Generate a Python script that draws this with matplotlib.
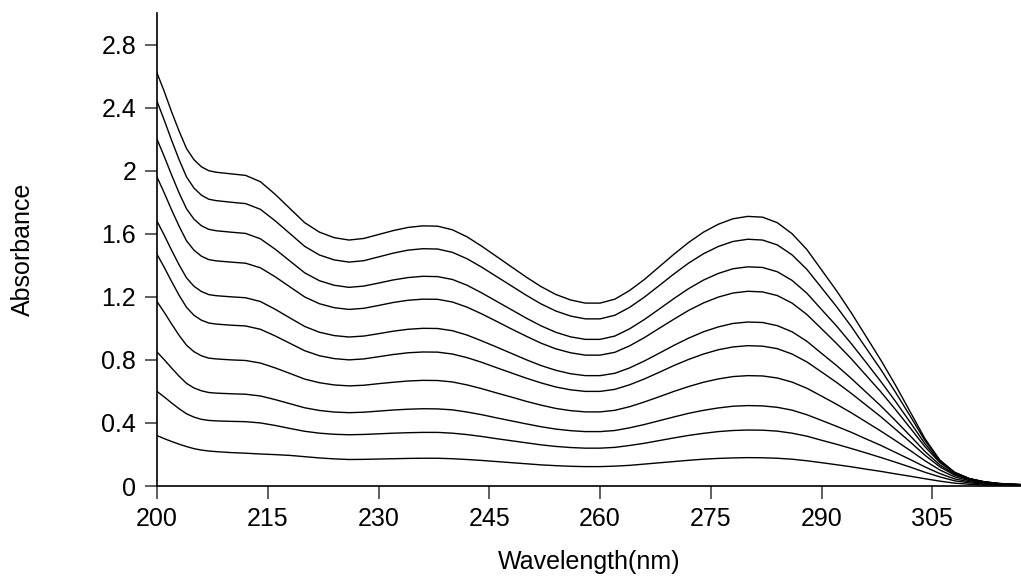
import matplotlib
matplotlib.use("Agg")
import matplotlib.pyplot as plt
from matplotlib.ticker import FuncFormatter

# wavelength grid (nm) and absorbance of the 10 spectra, top to bottom
wl = [200, 201, 202, 203, 204, 205, 206, 207, 208,
      210, 212, 214, 216, 218, 220, 222, 224, 226,
      228, 230, 232, 234, 236,
      238, 240, 242, 244, 246, 248, 250, 252, 254, 256, 258, 260,
      262, 264, 266, 268, 270, 272, 274, 276, 278, 280,
      282, 284, 286, 288, 290, 292, 294, 296, 298, 300, 302, 304, 306, 308, 310, 312, 314, 317]

c1 = [2.62, 2.50, 2.37, 2.25, 2.14, 2.07, 2.025, 2.00, 1.99,
      1.98, 1.97, 1.93, 1.85, 1.76, 1.67, 1.61, 1.575, 1.56,
      1.57, 1.595, 1.62, 1.64, 1.65,
      1.648, 1.625, 1.58, 1.52, 1.455, 1.39, 1.325, 1.265, 1.215, 1.18, 1.16, 1.16,
      1.185, 1.24, 1.31, 1.39, 1.47, 1.545, 1.61, 1.66, 1.695, 1.71,
      1.705, 1.67, 1.60, 1.50, 1.37, 1.24, 1.10, 0.95, 0.80, 0.64, 0.47, 0.30, 0.165, 0.085, 0.045, 0.025, 0.015, 0.008]
c2 = [2.44, 2.318, 2.19, 2.069, 1.96, 1.89, 1.845, 1.819, 1.81,
      1.80, 1.791, 1.755, 1.682, 1.601, 1.52, 1.465, 1.434, 1.42,
      1.429, 1.453, 1.477, 1.496, 1.505,
      1.503, 1.482, 1.441, 1.387, 1.328, 1.269, 1.21, 1.155, 1.11, 1.078, 1.06, 1.06,
      1.083, 1.133, 1.198, 1.271, 1.345, 1.414, 1.473, 1.519, 1.551, 1.565,
      1.56, 1.529, 1.466, 1.374, 1.257, 1.139, 1.013, 0.876, 0.74, 0.595, 0.443, 0.288, 0.163, 0.088, 0.047, 0.027, 0.016, 0.009]
c3 = [2.20, 2.088, 1.97, 1.858, 1.758, 1.693, 1.651, 1.628, 1.619,
      1.61, 1.602, 1.568, 1.502, 1.427, 1.352, 1.302, 1.273, 1.26,
      1.268, 1.287, 1.307, 1.322, 1.33,
      1.328, 1.31, 1.273, 1.224, 1.171, 1.118, 1.065, 1.016, 0.975, 0.946, 0.93, 0.93,
      0.951, 0.997, 1.056, 1.122, 1.189, 1.252, 1.306, 1.348, 1.378, 1.39,
      1.386, 1.359, 1.304, 1.223, 1.119, 1.016, 0.904, 0.785, 0.664, 0.537, 0.404, 0.268, 0.156, 0.085, 0.047, 0.026, 0.015, 0.008]
c4 = [1.96, 1.857, 1.749, 1.647, 1.555, 1.496, 1.458, 1.436, 1.428,
      1.42, 1.413, 1.384, 1.327, 1.263, 1.199, 1.156, 1.131, 1.12,
      1.127, 1.145, 1.164, 1.178, 1.185,
      1.184, 1.167, 1.134, 1.091, 1.044, 0.996, 0.95, 0.906, 0.87, 0.845, 0.83, 0.83,
      0.848, 0.889, 0.941, 1.0, 1.058, 1.114, 1.161, 1.198, 1.224, 1.235,
      1.231, 1.208, 1.16, 1.088, 0.997, 0.905, 0.808, 0.703, 0.598, 0.485, 0.368, 0.249, 0.149, 0.083, 0.046, 0.027, 0.016, 0.009]
c5 = [1.68, 1.589, 1.493, 1.402, 1.32, 1.267, 1.234, 1.214, 1.207,
      1.20, 1.194, 1.17, 1.121, 1.066, 1.012, 0.975, 0.954, 0.945,
      0.951, 0.966, 0.982, 0.994, 1.00,
      0.999, 0.985, 0.957, 0.92, 0.881, 0.841, 0.801, 0.764, 0.734, 0.712, 0.70, 0.70,
      0.715, 0.749, 0.793, 0.842, 0.892, 0.938, 0.978, 1.009, 1.031, 1.04,
      1.037, 1.017, 0.978, 0.918, 0.841, 0.765, 0.683, 0.596, 0.509, 0.415, 0.318, 0.219, 0.134, 0.075, 0.043, 0.025, 0.015, 0.007]
c6 = [1.47, 1.385, 1.295, 1.209, 1.133, 1.083, 1.052, 1.034, 1.027,
      1.02, 1.015, 0.994, 0.952, 0.905, 0.858, 0.826, 0.808, 0.80,
      0.806, 0.82, 0.834, 0.845, 0.85,
      0.849, 0.837, 0.814, 0.784, 0.75, 0.717, 0.684, 0.654, 0.628, 0.61, 0.60, 0.60,
      0.613, 0.642, 0.679, 0.721, 0.764, 0.803, 0.837, 0.864, 0.882, 0.89,
      0.887, 0.871, 0.837, 0.787, 0.723, 0.658, 0.588, 0.514, 0.44, 0.36, 0.279, 0.195, 0.122, 0.069, 0.04, 0.023, 0.013, 0.007]
c7 = [1.17, 1.10, 1.026, 0.955, 0.893, 0.852, 0.826, 0.811, 0.806,
      0.80, 0.796, 0.78, 0.749, 0.714, 0.678, 0.655, 0.641, 0.635,
      0.639, 0.649, 0.658, 0.666, 0.67,
      0.669, 0.66, 0.641, 0.617, 0.59, 0.564, 0.537, 0.513, 0.492, 0.478, 0.47, 0.47,
      0.48, 0.503, 0.533, 0.566, 0.60, 0.631, 0.658, 0.679, 0.694, 0.70,
      0.698, 0.685, 0.659, 0.62, 0.57, 0.519, 0.465, 0.407, 0.349, 0.288, 0.225, 0.16, 0.102, 0.058, 0.034, 0.02, 0.011, 0.006]
c8 = [0.85, 0.80, 0.747, 0.696, 0.651, 0.622, 0.604, 0.593, 0.589,
      0.585, 0.582, 0.571, 0.548, 0.522, 0.496, 0.479, 0.469, 0.465,
      0.468, 0.475, 0.482, 0.487, 0.49,
      0.489, 0.483, 0.469, 0.452, 0.432, 0.413, 0.394, 0.376, 0.361, 0.351, 0.345, 0.345,
      0.352, 0.369, 0.39, 0.414, 0.438, 0.461, 0.48, 0.495, 0.506, 0.51,
      0.508, 0.499, 0.481, 0.452, 0.416, 0.379, 0.341, 0.299, 0.258, 0.213, 0.168, 0.121, 0.079, 0.045, 0.027, 0.016, 0.009, 0.005]
c9 = [0.60, 0.564, 0.526, 0.49, 0.458, 0.437, 0.423, 0.416, 0.413,
      0.41, 0.408, 0.40, 0.384, 0.365, 0.347, 0.335, 0.328, 0.325,
      0.327, 0.331, 0.335, 0.338, 0.34,
      0.34, 0.335, 0.326, 0.314, 0.30, 0.287, 0.274, 0.261, 0.251, 0.244, 0.24, 0.24,
      0.245, 0.257, 0.271, 0.288, 0.305, 0.321, 0.334, 0.345, 0.352, 0.355,
      0.354, 0.348, 0.335, 0.316, 0.29, 0.265, 0.238, 0.21, 0.181, 0.151, 0.12, 0.087, 0.058, 0.033, 0.02, 0.012, 0.007, 0.003]
c10 = [0.32, 0.30, 0.282, 0.265, 0.25, 0.237, 0.228, 0.222, 0.218,
       0.212, 0.208, 0.203, 0.199, 0.194, 0.186, 0.178, 0.172, 0.168,
       0.169, 0.171, 0.173, 0.175, 0.176,
       0.176, 0.173, 0.168, 0.162, 0.155, 0.148, 0.141, 0.134, 0.129, 0.125, 0.123, 0.123,
       0.126, 0.131, 0.139, 0.147, 0.155, 0.163, 0.17, 0.175, 0.178, 0.18,
       0.179, 0.176, 0.17, 0.16, 0.148, 0.135, 0.122, 0.107, 0.093, 0.077, 0.062, 0.046, 0.031, 0.018, 0.011, 0.006, 0.004, 0.002]

xticks = [200, 215, 230, 245, 260, 275, 290, 305]
yticks = [0, 0.4, 0.8, 1.2, 1.6, 2.0, 2.4, 2.8]

plt.rcParams["font.family"] = ["Liberation Sans", "DejaVu Sans"]

fig = plt.figure(figsize=(10.21, 5.80), dpi=100)
ax = fig.add_axes([157 / 1021, 94 / 580, 864 / 1021, 473 / 580])

for c in [c1, c2, c3, c4, c5, c6, c7, c8, c9, c10]:
    ax.plot(wl, c, color="black", linewidth=1.0)

ax.set_xlim(200, 317)
ax.set_ylim(0, 3.0)
ax.set_xticks(xticks)
ax.set_yticks(yticks)
ax.yaxis.set_major_formatter(FuncFormatter(lambda v, p: f"{v:g}"))

for s in ["top", "right"]:
    ax.spines[s].set_visible(False)
for s in ["left", "bottom"]:
    ax.spines[s].set_linewidth(1.2)

ax.tick_params(axis="both", direction="out", length=9, width=1.2, color="#444444",
               labelsize=18, pad=6)
ax.set_xlabel("Wavelength(nm)", fontsize=18, labelpad=14)
ax.set_ylabel("Absorbance", fontsize=18, labelpad=48)

plt.savefig("out.png", dpi=100)
